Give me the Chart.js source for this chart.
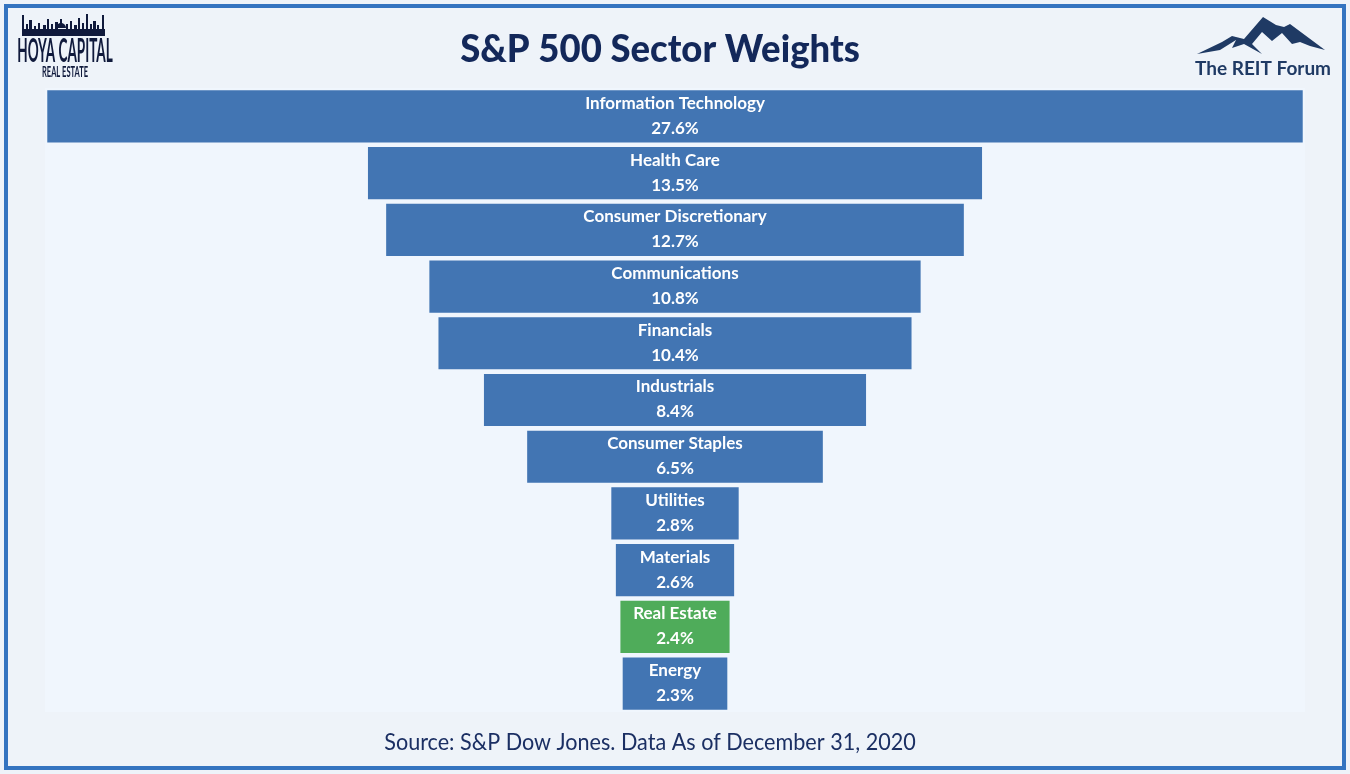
<!DOCTYPE html>
<html>
<head>
<meta charset="utf-8">
<title>S&amp;P 500 Sector Weights</title>
<script src="https://cdn.jsdelivr.net/npm/chart.js@4.4.0/dist/chart.umd.min.js"></script>
<style>
  html, body { margin: 0; padding: 0; background: #eef3f9; }
  #wrap { width: 1350px; height: 774px; }
</style>
</head>
<body>
<div id="wrap"><canvas id="funnel" width="1350" height="774"></canvas></div>
<script>
// sector names and their weight in the index (%)
const sectors = [
    'Information Technology', 'Health Care', 'Consumer Discretionary',
    'Communications', 'Financials', 'Industrials', 'Consumer Staples',
    'Utilities', 'Materials', 'Real Estate', 'Energy'
];
const weights = [27.6, 13.5, 12.7, 10.8, 10.4, 8.4, 6.5, 2.8, 2.6, 2.4, 2.3];
const highlight = 'Real Estate';

const chartTitle = 'S&P 500 Sector Weights';
const sourceNote = 'Source: S&P Dow Jones. Data As of December 31, 2020';

const navy = '#13285a';
const barBlue = '#4275b3';
const barGreen = '#4fac5a';

// each bar is centred on zero, so it spans [-w/2, w/2]
const spans = weights.map(w => [-w / 2, w / 2]);
const colors = sectors.map(s => s === highlight ? barGreen : barBlue);

// draw text squeezed horizontally (the original uses condensed faces)
function squeezed(ctx, text, x, y, font, sx) {
    ctx.save();
    ctx.translate(x, y);
    ctx.scale(sx, 1);
    ctx.font = font;
    ctx.fillText(text, 0, 0);
    ctx.restore();
}

// frame, titles and logos
const decorPlugin = {
    id: 'decor',
    beforeDraw(chart) {
        const ctx = chart.ctx;
        const area = chart.chartArea;
        ctx.save();
        ctx.fillStyle = '#eef3f9';
        ctx.fillRect(0, 0, chart.width, chart.height);
        ctx.fillStyle = '#f0f6fd';
        ctx.fillRect(area.left, area.top, area.right - area.left, area.bottom - area.top);
        ctx.strokeStyle = '#3474c0';
        ctx.lineWidth = 4;
        ctx.strokeRect(6, 6, chart.width - 12, chart.height - 12);
        ctx.restore();
    },
    afterDraw(chart) {
        const ctx = chart.ctx;
        ctx.save();
        ctx.textAlign = 'center';
        ctx.textBaseline = 'middle';

        // title
        ctx.fillStyle = navy;
        squeezed(ctx, chartTitle, 660, 50, '900 38px Lato', 0.96);

        // source line
        ctx.fillStyle = '#1b2f63';
        squeezed(ctx, sourceNote, 650, 742, '24px Lato', 0.9);

        // Hoya Capital logo: skyline band + condensed lettering
        ctx.fillStyle = '#101a3c';
        ctx.fillRect(22, 29, 83, 7);
        const spikes = [[22, 15, 2], [26, 24, 2], [29, 20, 3], [34, 26, 2], [38, 23, 2],
                        [43, 25, 3], [47, 19, 2], [51, 24, 2], [55, 22, 3], [66, 24, 2],
                        [70, 21, 2], [74, 25, 3], [78, 18, 2], [82, 23, 2], [86, 14, 2],
                        [90, 24, 2], [93, 21, 3], [97, 25, 2], [102, 15, 2]];
        spikes.forEach(s => ctx.fillRect(s[0], s[1], s[2], 29 - s[1]));
        ctx.beginPath();
        ctx.arc(61, 28, 5, Math.PI, 0);
        ctx.fill();
        ctx.fillRect(60, 19, 2, 5);

        squeezed(ctx, 'HOYA CAPITAL', 65, 51, 'bold 33px Lato', 0.41);
        squeezed(ctx, 'REAL ESTATE', 65, 72, 'bold 15px Lato', 0.5);

        // The REIT Forum logo: mountain + text
        ctx.fillStyle = '#1f3a64';
        ctx.beginPath();
        const peak = [[1197, 54], [1222, 42], [1232, 36], [1244, 39], [1263, 17], [1276, 25],
                      [1284, 27], [1290, 24], [1325, 50], [1310, 46], [1300, 42], [1292, 44],
                      [1282, 33], [1272, 41], [1262, 32], [1252, 44], [1262, 54], [1244, 44],
                      [1232, 48], [1236, 40], [1220, 50]];
        peak.forEach((p, i) => i ? ctx.lineTo(p[0], p[1]) : ctx.moveTo(p[0], p[1]));
        ctx.closePath();
        ctx.fill();
        ctx.font = 'bold 19px Lato';
        ctx.fillText('The REIT Forum', 1263, 69);
        ctx.restore();
    }
};

// sector name and weight written inside each bar
const labelPlugin = {
    id: 'barLabels',
    afterDatasetsDraw(chart) {
        const ctx = chart.ctx;
        const meta = chart.getDatasetMeta(0);
        ctx.save();
        ctx.fillStyle = '#ffffff';
        ctx.textAlign = 'center';
        ctx.textBaseline = 'middle';
        meta.data.forEach((bar, i) => {
            const cx = (bar.x + bar.base) / 2;
            ctx.font = 'bold 17px Lato';
            ctx.fillText(sectors[i], cx, bar.y - 13);
            ctx.fillText(weights[i].toFixed(1) + '%', cx, bar.y + 12);
        });
        ctx.restore();
    }
};

const ctx = document.getElementById('funnel').getContext('2d');
const chart = new Chart(ctx, {
    type: 'bar',
    data: {
        labels: sectors,
        datasets: [{
            data: spans,
            backgroundColor: colors,
            borderWidth: 0,
            borderSkipped: false,
            categoryPercentage: 0.92,
            barPercentage: 1.0
        }]
    },
    options: {
        indexAxis: 'y',
        responsive: false,
        animation: false,
        layout: { padding: { left: 45, right: 45, top: 88, bottom: 62 } },
        scales: {
            x: { display: false, min: -13.85, max: 13.85 },
            y: { display: false }
        },
        plugins: {
            legend: { display: false },
            tooltip: { enabled: false }
        }
    },
    plugins: [decorPlugin, labelPlugin]
});
</script>
</body>
</html>
